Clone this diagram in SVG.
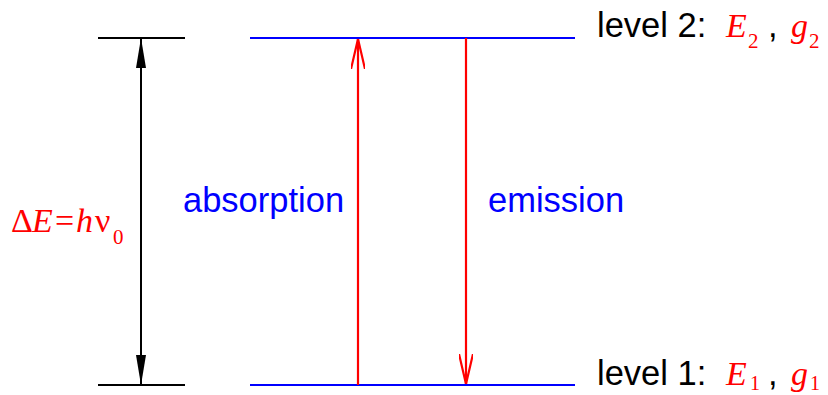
<svg xmlns="http://www.w3.org/2000/svg" width="828" height="395" viewBox="0 0 828 395">
<style>
.blk{stroke:#000;stroke-width:2;fill:none}
.lvl{stroke:#0000ff;stroke-width:2.2;fill:none}
.red{stroke:#ff0000;stroke-width:2.2;fill:none}
.sans{font-family:"Liberation Sans",Arial,sans-serif;font-size:34.5px}
.serif{font-family:"Liberation Serif","Times New Roman",serif;fill:#ff0000}
.it{font-style:italic}
</style>
<defs>
<marker id="blkHead" viewBox="0 0 30 10" refX="30" refY="5" markerWidth="30" markerHeight="10" markerUnits="userSpaceOnUse" orient="auto">
<path d="M0,0 L30,5 L0,10 Z" fill="#000"/>
</marker>
<marker id="redHead" viewBox="0 0 30 14" refX="30" refY="7" markerWidth="30" markerHeight="14" markerUnits="userSpaceOnUse" orient="auto">
<path d="M0,0 L30,7 L0,14" fill="none" stroke="#ff0000" stroke-width="2.2"/>
</marker>
</defs>
<g id="energy-ref-top"><line class="blk" x1="98" y1="38" x2="185" y2="38"/></g>
<g id="energy-ref-bottom"><line class="blk" x1="98" y1="385" x2="185" y2="385"/></g>
<g id="level2"><line class="lvl" x1="250" y1="38" x2="575" y2="38"/>
<text class="sans" x="597" y="37" fill="#000">level 2:</text>
<text class="serif it" x="726" y="37" font-size="34">E</text>
<text class="serif" x="748" y="48" font-size="21">2</text>
<text class="sans" x="768" y="37" fill="#000">,</text>
<text class="serif it" x="791" y="37" font-size="34">g</text>
<text class="serif" x="809" y="48" font-size="21">2</text>
</g>
<g id="level1"><line class="lvl" x1="250" y1="385" x2="575" y2="385"/>
<text class="sans" x="597" y="385" fill="#000">level 1:</text>
<text class="serif it" x="726" y="385" font-size="34">E</text>
<text class="serif" x="750" y="390" font-size="20">1</text>
<text class="sans" x="768" y="385" fill="#000">,</text>
<text class="serif it" x="791" y="385" font-size="34">g</text>
<text class="serif" x="810" y="390" font-size="20">1</text>
</g>
<g id="deltaE-label">
<text class="serif" y="232" font-size="34"><tspan x="11">Δ</tspan><tspan x="32" class="it">E</tspan><tspan x="55">=</tspan><tspan x="76" class="it">h</tspan><tspan x="95">ν</tspan></text>
<text class="serif" x="113" y="244" font-size="21">0</text>
</g>
<g id="absorption-label"><text class="sans" x="183" y="212" fill="#0000ff">absorption</text></g>
<g id="emission-label"><text class="sans" x="488" y="212" fill="#0000ff">emission</text></g>
<g id="connectors">
<line class="blk" x1="141" y1="210" x2="141" y2="38" stroke-width="1.5" marker-end="url(#blkHead)"/>
<line class="blk" x1="141" y1="210" x2="141" y2="385" stroke-width="1.5" marker-end="url(#blkHead)"/>
<line class="red" x1="358" y1="385" x2="358" y2="39" marker-end="url(#redHead)"/>
<line class="red" x1="466" y1="38" x2="466" y2="384" marker-end="url(#redHead)"/>
</g>
</svg>
